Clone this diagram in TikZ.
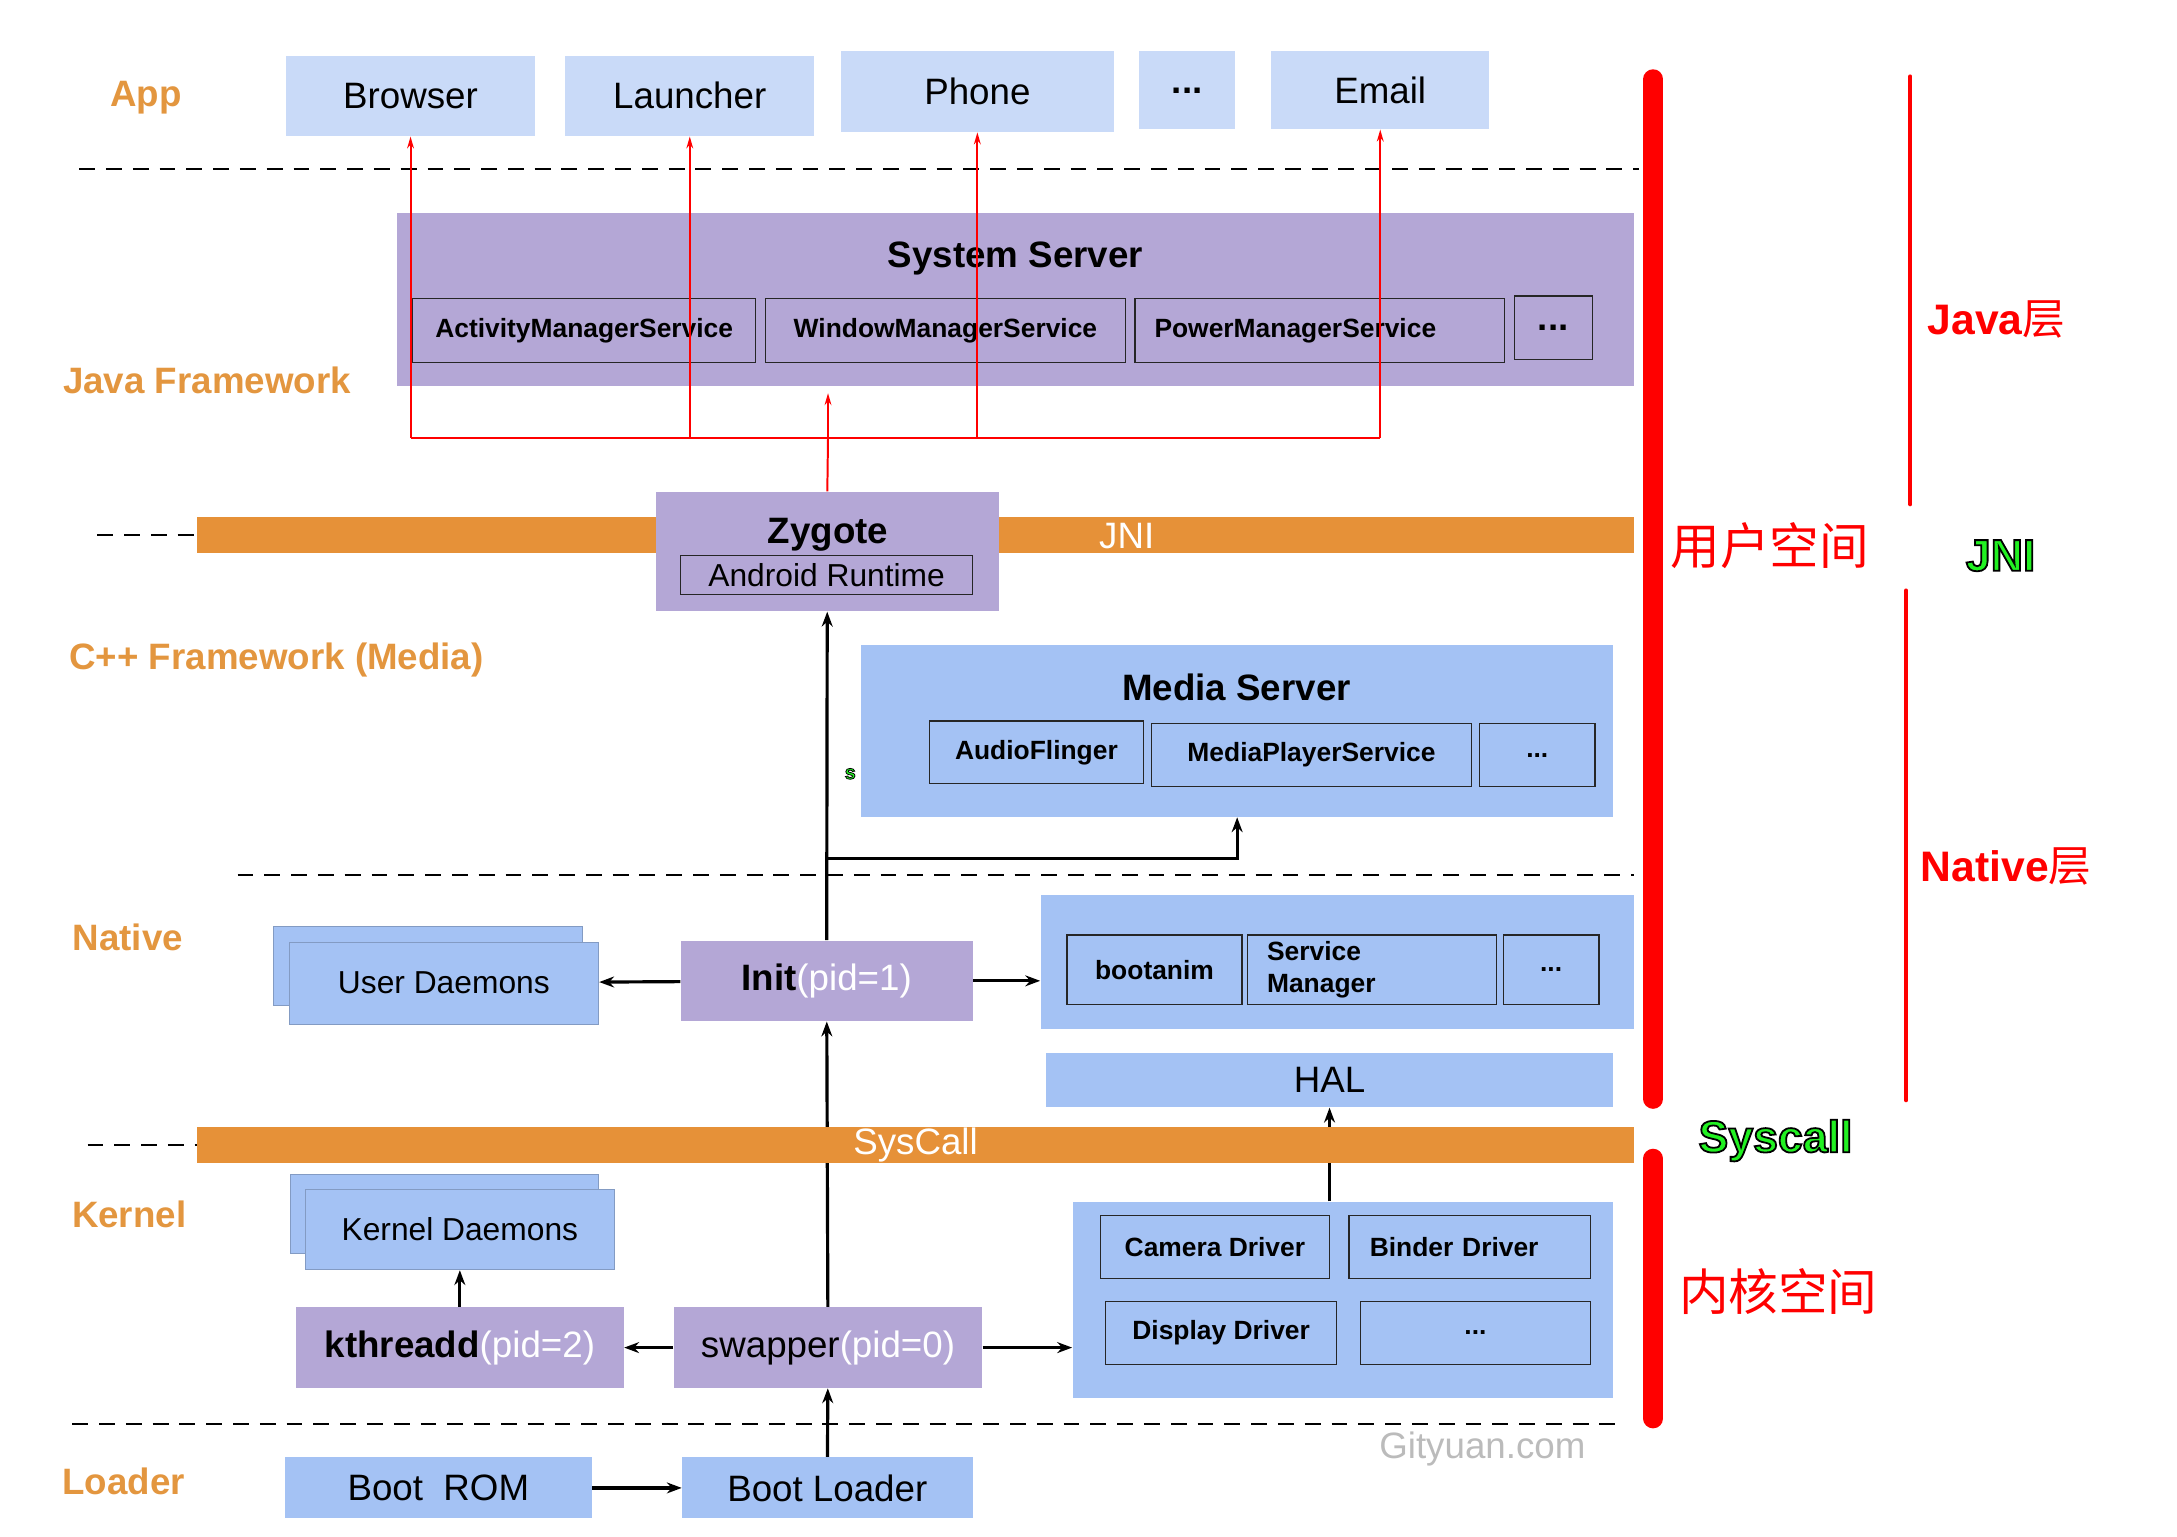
\documentclass[tikz,border=0pt]{standalone}
\usepackage{fontspec}
\setmainfont{Liberation Sans}
\newfontfamily\cjk{Noto Sans CJK SC}
\usetikzlibrary{arrows.meta}

\definecolor{appblue}{HTML}{C9DAF8}
\definecolor{boxblue}{HTML}{A4C2F4}
\definecolor{procpurple}{HTML}{B4A7D6}
\definecolor{barorange}{HTML}{E69138}
\definecolor{layerorange}{HTML}{E3963F}
\definecolor{markred}{HTML}{FF0000}
\definecolor{markgreen}{HTML}{22F022}
\definecolor{wmgray}{HTML}{BBBBBB}

\newlength\boxu
\setlength\boxu{0.7pt}
\newcommand\bigfont{\fontsize{18.5}{22}\selectfont}
\newcommand\midfont{\fontsize{16}{19}\selectfont}
\newcommand\smallfont{\fontsize{13.3}{16}\selectfont}

\tikzset{
  sz/.style 2 args={minimum width=#1*\boxu, minimum height=#2*\boxu},
  appbox/.style={fill=appblue, inner sep=0pt, font=\bigfont},
  bluebox/.style={fill=boxblue, inner sep=0pt, font=\bigfont},
  stackbox/.style={bluebox, draw=boxblue!80!black, line width=0.4pt, font=\midfont},
  procbox/.style={fill=procpurple, inner sep=0pt, font=\bigfont},
  inbox/.style={draw=black!85, line width=0.6pt, inner sep=0pt, font=\smallfont\bfseries},
  leftin/.style={inbox, align=left, inner xsep=9.8pt, text width=#1},
  orangebar/.style={fill=barorange, inner sep=0pt, text=white, font=\bigfont},
  layername/.style={text=layerorange, font=\bigfont\bfseries},
  arrowline/.style={-{Stealth[length=7.5pt, width=5.5pt]}, line width=1.6pt},
  redline/.style={draw=markred, line width=1pt},
  redarrow/.style={redline, -{Stealth[length=6pt, width=3.4pt]}},
  sepline/.style={line width=1pt, dash pattern=on 8pt off 5.5pt},
  zonebar/.style={draw=markred, line width=10pt, line cap=round},
  zoneline/.style={draw=markred, line width=2pt, line cap=round},
  zonetext/.style={text=markred, font=\fontsize{25}{30}\selectfont\cjk},
  layertag/.style={text=markred, font=\fontsize{21.5}{26}\selectfont\bfseries},
  greentag/.style={text=markgreen, font=\fontsize{22.5}{27}\selectfont\bfseries},
}

% green text with black outline (fill + stroke)
\newcommand\outlinetag[5]{%
  \node[greentag, #1] (#4) at (#3)
    {\special{pdf:literal direct 2 Tr #2 w 0 0 0 RG}#5\special{pdf:literal direct 0 Tr}};}

\begin{document}
\begin{tikzpicture}[x=0.7pt, y=-0.7pt, >=stealth]
\useasboundingbox (0,0) rectangle (1567,1106);

% layer names
\node[layername] (lapp) at (105,70) {App};
\node[layername] (ljava) at (149,274) {Java Framework};
\node[layername] (lcpp) at (199,475) {C++ Framework (Media)};
\node[layername] (lnative) at (92,675) {Native};
\node[layername] (lkernel) at (93,874) {Kernel};
\node[layername] (lloader) at (89,1066) {Loader};

% separators
\draw[sepline] (57,122) -- (1180,122);
\draw[sepline] (171,630) -- (1176,630);
\draw[sepline] (52,1025) -- (1168,1025);
\draw[sepline] (70,385) -- (142,385);
\draw[sepline] (63,824) -- (142,824);

% apps
\node[appbox, sz={179}{58}] (browser) at (295.5,69) {Browser};
\node[appbox, sz={179}{58}] (launcher) at (496.5,69) {Launcher};
\node[appbox, sz={197}{58}] (phone) at (703.5,66) {Phone};
\node[appbox, sz={69}{56}, font=\bigfont\bfseries] (appdots) at (854.5,65) {...};
\node[appbox, sz={157}{56}] (email) at (993.5,65) {Email};

% java framework
\node[procbox, sz={890}{125}] (sysserver) at (731,215.5) {};
\node[font=\bigfont\bfseries] (sstitle) at (731,186) {System Server};
\node[inbox, sz={247}{46}] (ams) at (420.5,238) {ActivityManagerService};
\node[inbox, sz={259}{46}] (wms) at (680.5,238) {WindowManagerService};
\node[leftin=166.6pt, sz={266}{46}] (pms) at (950,238) {PowerManagerService};
\node[inbox, sz={56}{46}, font=\bigfont\bfseries] (ssdots) at (1118,236) {...};

% jni
\node[orangebar, sz={1034}{26}] (jnibar) at (659,385) {};
\node[text=white, font=\bigfont] (jnitext) at (811,386) {JNI};
\node[procbox, sz={247}{86}] (zygote) at (595.5,397) {};
\node[font=\bigfont\bfseries] (ztitle) at (596,385) {Zygote};
\node[inbox, sz={210}{28}, font=\midfont] (art) at (595,414) {Android Runtime};

% media
\node[bluebox, sz={541}{124}] (media) at (890.5,526) {};
\node[font=\bigfont\bfseries] (mtitle) at (890,495) {Media Server};
\node[inbox, sz={154}{45}] (audio) at (746,541.5) {AudioFlinger};
\node[inbox, sz={230}{45}] (mps) at (944,543.5) {MediaPlayerService};
\node[inbox, sz={83}{45}] (mdots) at (1106.5,543.5) {...};
\outlinetag{font=\fontsize{10}{11}\selectfont\bfseries}{0.4}{612,557}{stag}{s}

% native
\node[stackbox, sz={222}{57}] (udback) at (308,695.5) {};
\node[stackbox, sz={223}{59}] (udfront) at (319.5,707.5) {User Daemons};
\node[procbox, sz={210}{58}] (init) at (595,706) {{\bfseries Init}{\color{white}(pid=1)}};
\node[bluebox, sz={427}{97}] (native) at (962.5,692.5) {};
\node[inbox, sz={126}{50}] (bootanim) at (831,698) {bootanim};
\node[leftin=105.7pt, sz={179}{50}] (svcmgr) at (987.5,698) {Service\\Manager};
\node[inbox, sz={69}{50}] (ndots) at (1116.5,698) {...};
\node[bluebox, sz={408}{39}] (hal) at (957,777.5) {HAL};

% kernel
\node[stackbox, sz={222}{57}] (kdback) at (320,873.5) {};
\node[stackbox, sz={222}{58}] (kdfront) at (331,885) {Kernel Daemons};
\node[procbox, sz={236}{58}] (kthreadd) at (331,970) {{\bfseries kthreadd}{\color{white}(pid=2)}};
\node[procbox, sz={222}{58}] (swapper) at (596,970) {swapper{\color{white}(pid=0)}};
\node[bluebox, sz={389}{141}] (drivers) at (966.5,935.5) {};
\node[inbox, sz={165}{45}] (camera) at (874.5,897.5) {Camera Driver};
\node[leftin=100.8pt, sz={174}{45}] (binder) at (1058,897.5) {Binder Driver};
\node[inbox, sz={166}{45}] (display) at (879,959.5) {Display Driver};
\node[inbox, sz={166}{45}] (ddots) at (1062,959.5) {...};

% loader
\node[bluebox, sz={221}{44}] (bootrom) at (315.5,1071) {Boot~ ROM};
\node[bluebox, sz={209}{44}] (bootloader) at (595.5,1071) {Boot Loader};
\node[text=wmgray, font=\bigfont] (gityuan) at (1067,1043) {Gityuan.com};

% zygote -> system server -> apps
\coordinate (zfork) at (596,315);
\coordinate (sstip) at (596,283);
\draw[redline] (zygote.north) -- (zfork);
\draw[redarrow] (zfork) -- (sstip);
\draw[redline] (browser.south |- zfork) -- (email.south |- zfork);
\foreach \app in {browser,launcher,phone,email}
  \draw[redarrow] (\app.south |- zfork) -- (\app.south);

% boot chain
\coordinate (mfork) at (596,618);
\draw[arrowline] (bootrom) -- (bootloader);
\draw[arrowline] (bootloader) -- (swapper);
\draw[arrowline] (swapper) -- (kthreadd);
\draw[arrowline] (swapper.east) -- (swapper.east -| drivers.west);
\draw[arrowline] (kthreadd) -- (kdfront);
\draw[arrowline] (swapper) -- (init);
\draw[arrowline] (init) -- (udfront);
\draw[arrowline] (init.east) -- (init.east -| native.west);
\draw[arrowline] (init) -- (zygote);
\draw[arrowline] (mfork) -| (media.south);
\draw[arrowline] (hal.south |- drivers.north) -- (hal.south);

% syscall
\node[orangebar, sz={1034}{26}] (syscall) at (659,824) {SysCall};

% user / kernel space
\draw[zonebar] (1190,57) -- (1190,791);
\draw[zonebar] (1190,834) -- (1190,1021);
\draw[zoneline] (1375,55) -- (1375,363);
\draw[zoneline] (1372,425) -- (1372,792);
\node[zonetext] (userspace) at (1274,393) {用户空间};
\node[zonetext] (kernelspace) at (1280,930) {内核空间};
\node[layertag] (javatag) at (1437,230) {Java{\mdseries\cjk 层}};
\node[layertag] (nativetag) at (1444,624) {Native{\mdseries\cjk 层}};
\outlinetag{}{0.9}{1440,400}{jnitag}{JNI}
\outlinetag{}{0.9}{1278,821}{syscalltag}{Syscall}
\end{tikzpicture}
\end{document}
